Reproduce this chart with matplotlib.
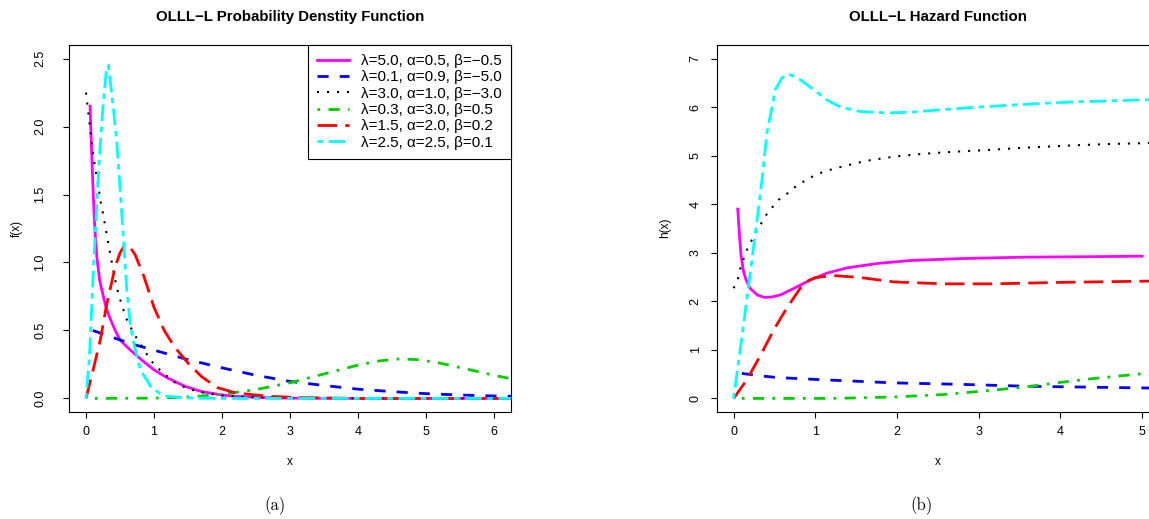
import matplotlib
matplotlib.use("Agg")
import matplotlib.pyplot as plt

plt.rcParams["font.family"] = ["Liberation Sans", "DejaVu Sans"]

W, H = 1149, 519

labels = [
    "\u03bb=5.0, \u03b1=0.5, \u03b2=\u22120.5",
    "\u03bb=0.1, \u03b1=0.9, \u03b2=\u22125.0",
    "\u03bb=3.0, \u03b1=1.0, \u03b2=\u22123.0",
    "\u03bb=0.3, \u03b1=3.0, \u03b2=0.5",
    "\u03bb=1.5, \u03b1=2.0, \u03b2=0.2",
    "\u03bb=2.5, \u03b1=2.5, \u03b2=0.1",
]
colors = ["#FF00FF", "#0000FF", "black", "#00CD00", "#FF0000", "#00FFFF"]

# ---- (a) density values ----
pdf_x_mag = [0.06, 0.08, 0.11, 0.13, 0.16, 0.20, 0.26, 0.30, 0.36, 0.43, 0.50, 0.60, 0.70,
             0.85, 1.00, 1.20, 1.45, 1.70, 2.00, 2.20, 2.60, 3.00, 4.00, 5.00, 6.30]
pdf_y_mag = [2.15, 1.85, 1.46, 1.25, 1.04, 0.87, 0.74, 0.66, 0.58, 0.50, 0.43, 0.38, 0.334,
             0.27, 0.21, 0.15, 0.09, 0.05, 0.025, 0.015, 0.006, 0.002, 0.0, 0.0, 0.0]

pdf_x_blue = [0.10, 0.30, 0.50, 0.75, 1.00, 1.25, 1.50, 1.75, 2.00, 2.50, 3.00, 3.50,
              4.00, 4.50, 5.00, 5.50, 6.00, 6.30]
pdf_y_blue = [0.50, 0.465, 0.43, 0.39, 0.355, 0.32, 0.285, 0.255, 0.225, 0.17, 0.125, 0.095,
              0.068, 0.05, 0.035, 0.025, 0.018, 0.015]

pdf_x_blk = [0.00, 0.03, 0.06, 0.09, 0.12, 0.15, 0.18, 0.21, 0.25, 0.30, 0.38, 0.45, 0.53,
             0.60, 0.70, 0.80, 0.90, 1.00, 1.15, 1.30, 1.50, 1.75, 2.00, 2.50, 3.00, 4.00, 6.30]
pdf_y_blk = [2.25, 2.12, 1.99, 1.85, 1.74, 1.65, 1.57, 1.46, 1.36, 1.22, 1.00, 0.82, 0.68,
             0.58, 0.48, 0.40, 0.32, 0.25, 0.18, 0.12, 0.07, 0.04, 0.022, 0.008, 0.003, 0.0, 0.0]

pdf_x_grn = [0.13, 1.00, 1.50, 2.00, 2.50, 3.00, 3.50, 4.00, 4.30, 4.60, 4.90, 5.20, 5.60, 6.00, 6.30]
pdf_y_grn = [0.0, 0.002, 0.01, 0.03, 0.065, 0.115, 0.18, 0.245, 0.275, 0.29, 0.285, 0.26, 0.216, 0.17, 0.14]

pdf_x_red = [0.00, 0.10, 0.21, 0.30, 0.43, 0.50, 0.57, 0.65, 0.72, 0.85, 1.00, 1.15, 1.30,
             1.50, 1.70, 1.93, 2.20, 2.70, 3.20, 4.00, 6.30]
pdf_y_red = [0.00, 0.20, 0.43, 0.68, 0.97, 1.07, 1.13, 1.11, 1.06, 0.90, 0.67, 0.50, 0.38,
             0.26, 0.16, 0.08, 0.04, 0.015, 0.005, 0.0, 0.0]

pdf_x_cyan = [0.00, 0.05, 0.10, 0.15, 0.20, 0.25, 0.30, 0.33, 0.36, 0.40, 0.45, 0.50, 0.55,
              0.60, 0.65, 0.70, 0.80, 0.95, 1.10, 1.20, 1.50, 2.00, 6.30]
pdf_y_cyan = [0.00, 0.30, 0.85, 1.35, 1.80, 2.15, 2.42, 2.45, 2.32, 2.15, 1.90, 1.55, 1.18,
              0.80, 0.55, 0.41, 0.21, 0.09, 0.03, 0.015, 0.003, 0.0, 0.0]

# ---- (b) hazard values ----
hz_x_mag = [0.05, 0.07, 0.09, 0.12, 0.15, 0.20, 0.29, 0.38, 0.47, 0.57, 0.73, 0.94, 1.14,
            1.39, 1.76, 2.16, 2.77, 3.59, 4.41, 5.00]
hz_y_mag = [3.90, 3.40, 2.95, 2.62, 2.45, 2.27, 2.13, 2.08, 2.09, 2.13, 2.26, 2.44, 2.58,
            2.69, 2.78, 2.84, 2.88, 2.91, 2.92, 2.93]

hz_x_blue = [0.10, 0.30, 0.53, 1.14, 1.96, 2.77, 3.59, 4.41, 5.25]
hz_y_blue = [0.515, 0.47, 0.43, 0.38, 0.32, 0.29, 0.25, 0.23, 0.21]

hz_x_blk = [0.00, 0.05, 0.07, 0.10, 0.14, 0.18, 0.24, 0.29, 0.35, 0.41, 0.48, 0.55, 0.65,
            0.73, 0.84, 0.94, 1.04, 1.14, 1.27, 1.39, 1.61, 1.96, 2.33, 2.69, 3.14, 3.63,
            4.12, 4.59, 5.06, 5.25]
hz_y_blk = [2.27, 2.44, 2.61, 2.78, 2.95, 3.14, 3.31, 3.47, 3.64, 3.81, 3.95, 4.09, 4.21,
            4.33, 4.45, 4.55, 4.63, 4.69, 4.75, 4.80, 4.89, 4.98, 5.04, 5.08, 5.12, 5.17,
            5.21, 5.24, 5.26, 5.27]

hz_x_grn = [0.10, 1.14, 1.50, 1.96, 2.57, 3.18, 3.59, 4.00, 4.41, 5.25]
hz_y_grn = [0.0, 0.0, 0.01, 0.03, 0.08, 0.17, 0.24, 0.33, 0.41, 0.55]

hz_x_red = [0.00, 0.16, 0.33, 0.49, 0.65, 0.82, 0.92, 1.00, 1.22, 1.55, 1.96, 2.57, 3.18, 4.00, 5.25]
hz_y_red = [0.00, 0.38, 0.89, 1.41, 1.86, 2.28, 2.43, 2.49, 2.53, 2.49, 2.40, 2.36, 2.36, 2.39, 2.42]

hz_x_cyan = [0.00, 0.10, 0.20, 0.30, 0.35, 0.41, 0.47, 0.51, 0.59, 0.67, 0.75, 0.82, 0.98,
             1.14, 1.31, 1.55, 1.88, 2.20, 2.57, 2.98, 3.39, 3.79, 4.20, 4.61, 5.00, 5.25]
hz_y_cyan = [0.00, 1.25, 2.55, 3.85, 4.55, 5.50, 6.00, 6.36, 6.60, 6.68, 6.63, 6.56, 6.36,
             6.15, 6.00, 5.91, 5.88, 5.90, 5.95, 6.00, 6.04, 6.08, 6.11, 6.13, 6.15, 6.16]

# R style lty 1..6 (on/off in line-width units)
styles = [
    dict(lw=2.0, ls="-"),
    dict(lw=2.0, dashes=(4, 4)),
    dict(lw=1.5, dashes=(1, 3.8)),
    dict(lw=2.0, dashes=(1, 3, 4, 3)),
    dict(lw=2.0, dashes=(7, 3)),
    dict(lw=2.0, dashes=(2, 2, 6, 2)),
]

pdf_series = [(pdf_x_mag, pdf_y_mag), (pdf_x_blue, pdf_y_blue), (pdf_x_blk, pdf_y_blk),
              (pdf_x_grn, pdf_y_grn), (pdf_x_red, pdf_y_red), (pdf_x_cyan, pdf_y_cyan)]
hz_series = [(hz_x_mag, hz_y_mag), (hz_x_blue, hz_y_blue), (hz_x_blk, hz_y_blk),
             (hz_x_grn, hz_y_grn), (hz_x_red, hz_y_red), (hz_x_cyan, hz_y_cyan)]

fig = plt.figure(figsize=(W / 100, H / 100), dpi=100)


def px_axes(x0, x1, y0, y1):
    return fig.add_axes([x0 / W, 1 - y1 / H, (x1 - x0) / W, (y1 - y0) / H])


def style_axes(ax, ypad):
    for s in ax.spines.values():
        s.set_linewidth(0.8)
    ax.tick_params(direction="out", length=4.3, width=0.8, labelsize=9)
    ax.tick_params(axis="x", pad=6)
    ax.tick_params(axis="y", pad=ypad)
    for t in ax.get_yticklabels():
        t.set_rotation(90)
        t.set_va("center")


ax1 = px_axes(69, 511, 45, 412)
for (xs, ys), c, st, lab in zip(pdf_series, colors, styles, labels):
    ax1.plot(xs, ys, color=c, label=lab, **st)
ax1.set_xlim(-0.25, 6.25)
ax1.set_ylim(-0.1, 2.6)
ax1.set_xticks(range(7))
ax1.set_yticks([0, 0.5, 1.0, 1.5, 2.0, 2.5])
ax1.set_yticklabels(["0.0", "0.5", "1.0", "1.5", "2.0", "2.5"])
style_axes(ax1, 12)
leg = ax1.legend(loc="upper right", bbox_to_anchor=(1, 1), borderaxespad=0, fontsize=11,
                 fancybox=False, framealpha=1, edgecolor="black", handlelength=2.1,
                 handletextpad=0.8, borderpad=0.6, labelspacing=0.15)
leg.get_frame().set_linewidth(0.8)

ax2 = px_axes(717.3, 1158.5, 45, 412)
for (xs, ys), c, st in zip(hz_series, colors, styles):
    ax2.plot(xs, ys, color=c, **st)
ax2.set_xlim(-0.2, 5.2)
ax2.set_ylim(-0.28, 7.28)
ax2.set_xticks(range(6))
ax2.set_yticks(range(8))
style_axes(ax2, 7)

# titles, axis labels, captions
fig.text(290 / W, 1 - 17 / H, "OLLL\u2212L Probability Denstity Function", ha="center",
         va="center", fontsize=10.8, fontweight="bold")
fig.text(937.7 / W, 1 - 17 / H, "OLLL\u2212L Hazard Function", ha="center",
         va="center", fontsize=10.8, fontweight="bold")
fig.text(290 / W, 1 - 462 / H, "x", ha="center", va="center", fontsize=8.5)
fig.text(937.7 / W, 1 - 462 / H, "x", ha="center", va="center", fontsize=8.5)
fig.text(17 / W, 1 - 228 / H, "f(x)", ha="center", va="center", rotation=90, fontsize=8.5)
fig.text(665 / W, 1 - 228 / H, "h(x)", ha="center", va="center", rotation=90, fontsize=8.5)
fig.text(275 / W, 1 - 506 / H, "(a)", ha="center", va="center", fontsize=12,
         family=["cmr10", "DejaVu Serif"])
fig.text(921 / W, 1 - 506 / H, "(b)", ha="center", va="center", fontsize=12,
         family=["cmr10", "DejaVu Serif"])

fig.savefig("out.png", dpi=100)
